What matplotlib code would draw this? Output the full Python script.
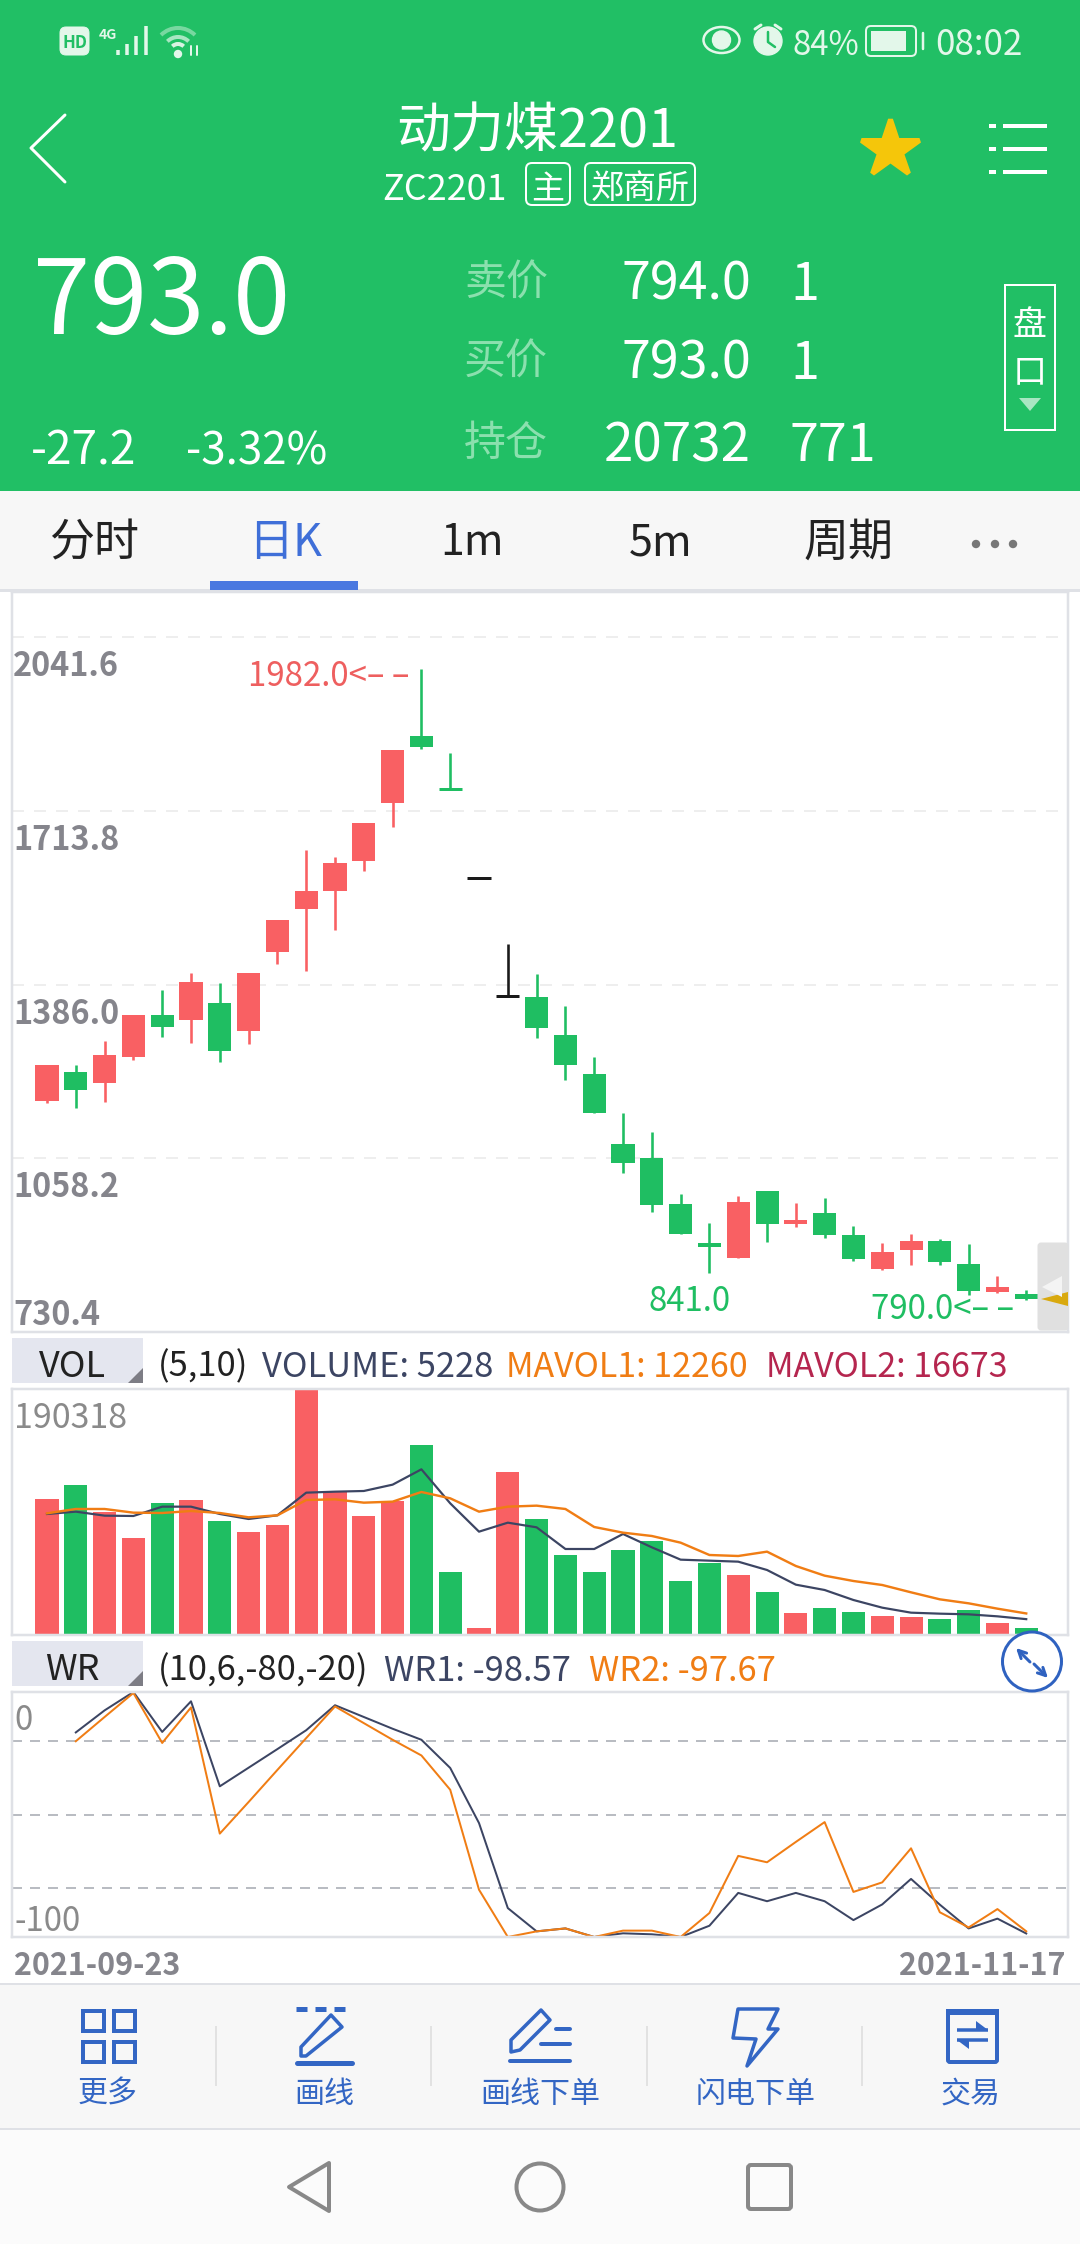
import matplotlib
matplotlib.use('Agg')
import matplotlib.pyplot as plt
from matplotlib.patches import Rectangle, Polygon, Circle, Ellipse, Arc, FancyBboxPatch

plt.rcParams['font.family'] = ['Noto Sans CJK SC', 'DejaVu Sans']

# -- candles, one per day
opens = [1166.5, 1220.5, 1200.4, 1248.9, 1327.6, 1318.4, 1350.5, 1297.4, 1447.5, 1528.0,
         1561.9, 1618.6, 1728.5, 1854.8, 1757.0, 1587.5, 1364.2, 1363.3, 1290.0, 1217.8,
         1086.0, 1059.4, 972.4, 897.4, 870.8, 997.2, 934.0, 954.1, 913.9, 849.8,
         884.6, 903.0, 859.0, 805.9, 803.0]
closes = [1235.0, 1186.6, 1252.5, 1327.6, 1306.5, 1391.6, 1260.8, 1407.2, 1507.0, 1561.9,
          1615.0, 1690.0, 1828.2, 1833.7, 1755.0, 1587.5, 1364.2, 1303.8, 1235.1, 1142.7,
          1050.2, 970.6, 915.7, 891.0, 976.1, 934.0, 942.2, 913.9, 869.0, 881.8,
          903.0, 861.7, 807.7, 816.0, 793.0]
highs = [1235.0, 1233.3, 1279.0, 1327.6, 1375.2, 1407.2, 1388.0, 1407.2, 1507.0, 1639.7,
         1626.0, 1690.0, 1828.2, 1982.0, 1822.8, 1587.5, 1462.1, 1405.4, 1345.0, 1248.9,
         1142.7, 1107.0, 989.9, 936.8, 986.2, 997.2, 974.0, 982.5, 931.2, 897.4,
         915.7, 906.6, 895.6, 837.0, 810.5]
lows = [1162.0, 1153.7, 1163.7, 1244.3, 1286.4, 1276.3, 1239.7, 1274.5, 1425.5, 1410.9,
        1488.7, 1599.4, 1682.7, 1830.1, 1755.0, 1587.5, 1364.2, 1285.5, 1205.0, 1142.7,
        1031.0, 956.0, 915.7, 841.0, 870.8, 901.0, 928.5, 908.4, 863.5, 848.0,
        857.0, 857.0, 800.4, 804.0, 790.0]
price_ticks = [2041.6, 1713.8, 1386.0, 1058.2, 730.4]
price_grid = [2041.6, 1713.8, 1386.0, 1058.2]

# -- volume
volumes = [105223, 116055, 94907, 75049, 102128, 104449, 88202, 79691, 85107, 190318,
           110381, 92070, 103676, 147003, 48743, 5416, 126113, 89749, 61896, 48743,
           65764, 72728, 41780, 55706, 46422, 33269, 17021, 20890, 17795, 14700,
           13927, 12379, 19343, 9284, 5228]
mavol1 = [93618, 95423, 92328, 92070, 99292, 99292, 93618, 89749, 92586, 110123,
          110897, 111413, 116313, 128176, 101871, 79949, 86912, 83302, 66538, 66538,
          78144, 67828, 58285, 57512, 56738, 50291, 38943, 34817, 27080, 21148,
          17279, 16506, 15990, 14442, 12260]
mavol2 = [94134, 97486, 97486, 94649, 94391, 95939, 94391, 91039, 92586, 104450,
          104965, 102386, 103160, 110639, 105739, 95423, 99292, 100065, 97486, 83560,
          79175, 76596, 71438, 61896, 61122, 64475, 53385, 45906, 41780, 38685,
          33011, 27595, 24501, 20374, 16673]

# -- WR, starts on the second day
wr1 = [-16.5, -7.5, 0, -16.3, -3.8, -38.5, -30.9, -23.3, -15.6, -5.4, -10.2, -15, -19.5,
       -31, -53.5, -88.2, -97.7, -96.5, -100, -98.5, -98.9, -100, -95.4, -82, -85.4, -82,
       -85.4, -93.1, -86.7, -76.3, -86.8, -96.5, -92.5, -98.57]
wr2 = [-20.1, -10.2, -0.4, -20.8, -6.3, -57.8, -44.9, -31.8, -18.8, -5.9, -12.7, -19.5,
       -25.9, -39.9, -80.7, -100, -97.7, -96.5, -100, -97.4, -97.4, -100, -90.2, -66.9,
       -69.5, -61.2, -53.1, -81.6, -77.7, -63.8, -89.9, -96.1, -88.6, -97.67]
wr_grid = [-20, -50, -80]

RED = '#f96063'
GREEN = '#1fbe62'
HEAD = '#21bf65'
NAVY = '#3c4563'
ORANGE = '#f07d14'
BLUE = '#3366c4'
BORDER = '#dfe1e6'
LABEL = '#85858c'
PALE = '#e3f7ea'


def pt(px):
    return px * 0.72


fig = plt.figure(figsize=(10.8, 22.44), dpi=100, facecolor='white')


def panel(top, bottom):
    ax = fig.add_axes([12 / 1080, 1 - bottom / 2244, (1068 - 12) / 1080, (bottom - top) / 2244])
    ax.set_xlim(-1.215, 35.45)
    ax.set_xticks([])
    ax.set_yticks([])
    for s in ax.spines.values():
        s.set_color(BORDER)
        s.set_linewidth(pt(2.5))
    return ax


days = list(range(len(opens)))

# ---- price panel
ax1 = panel(592, 1332)
ax1.set_ylim(730.4, 2126.6)
for g in price_grid:
    ax1.axhline(g, color='#eeeeee', lw=pt(2), dashes=(6, 5), zorder=0)
for i in days:
    o, c = opens[i], closes[i]
    col = RED if c > o else (GREEN if c < o else '#1a1a1a')
    ax1.vlines(i, lows[i], highs[i], color=col, lw=pt(2.6))
    if abs(c - o) < 3:
        ax1.hlines(c, i - 0.4, i + 0.4, color=col, lw=pt(3))
    else:
        ax1.bar(i, abs(c - o), bottom=min(o, c), width=0.8, color=col, linewidth=0)
for v, off in zip(price_ticks, [26, 26, 26, 26, -20]):
    ax1.annotate(f'{v:.1f}', xy=(0, v), xycoords=ax1.get_yaxis_transform(), xytext=(pt(1), -pt(off)),
                 textcoords='offset points', fontsize=pt(32.5), color=LABEL, fontweight='bold',
                 ha='left', va='center_baseline')
ax1.annotate('1982.0<– –', xy=(13, 1982), xytext=(pt(-12), pt(-4)), textcoords='offset points',
             fontsize=pt(33), color='#ee5f5f', ha='right', va='center_baseline')
ax1.annotate('841.0', xy=(23, 841), xytext=(pt(-20), pt(-24)), textcoords='offset points',
             fontsize=pt(33), color=GREEN, ha='center', va='center_baseline')
ax1.annotate('790.0<– –', xy=(34, 790), xytext=(pt(-12), pt(-5)), textcoords='offset points',
             fontsize=pt(33), color=GREEN, ha='right', va='center_baseline')

# ---- volume panel
ax2 = panel(1389, 1635)
ax2.set_ylim(0, 190318)
vol_cols = [RED if closes[i] >= opens[i] else GREEN for i in days]
ax2.bar(days, volumes, width=0.8, color=vol_cols, linewidth=0)
ax2.plot(days, mavol1, color=NAVY, lw=pt(2.2))
ax2.plot(days, mavol2, color=ORANGE, lw=pt(2.4))
ax2.text(0.002, 0.897, '190318', transform=ax2.transAxes, fontsize=pt(34), color='#8a8a8a',
         ha='left', va='center_baseline')

# ---- WR panel
ax3 = panel(1692, 1937)
ax3.set_ylim(-100, 0)
for g in wr_grid:
    ax3.axhline(g, color='#b9bcc2', lw=pt(2), dashes=(5, 4), zorder=0)
ax3.plot(days[1:], wr1, color=NAVY, lw=pt(2))
ax3.plot(days[1:], wr2, color=ORANGE, lw=pt(2))

# ---- everything around the chart, in screen pixels
ui = fig.add_axes([0, 0, 1, 1], zorder=10)
ui.set_xlim(0, 1080)
ui.set_ylim(2244, 0)
ui.axis('off')


def rect(x0, y0, x1, y1, color, **kw):
    ui.add_patch(Rectangle((x0, y0), x1 - x0, y1 - y0, facecolor=color, edgecolor='none', **kw))


def rbox(x0, y0, x1, y1, ec, r=6, lw=2, fc='none'):
    ui.add_patch(FancyBboxPatch((x0, y0), x1 - x0, y1 - y0, boxstyle=f'round,pad=0,rounding_size={r}',
                                facecolor=fc, edgecolor=ec, lw=pt(lw)))


def txt(x, y, s, px, color, ha='center', **kw):
    ui.text(x, y, s, fontsize=pt(px), color=color, ha=ha, va='center_baseline', **kw)


def line(xs, ys, color, lw=3, **kw):
    ui.plot(xs, ys, color=color, lw=pt(lw), solid_capstyle=kw.pop('cap', 'round'), **kw)


def poly(pts, fc='none', ec='none', lw=0):
    ui.add_patch(Polygon(pts, closed=True, facecolor=fc, edgecolor=ec, lw=pt(lw), joinstyle='round'))


# header
rect(0, 0, 1080, 491, HEAD)
rect(0, 491, 1080, 590, '#f7f7f7')
rect(0, 589, 1080, 592, BORDER)

# status bar
rbox(60, 27, 89, 55, PALE, r=6, lw=1, fc=PALE)
txt(74.5, 41, 'HD', 17, HEAD, fontweight='bold')
txt(108, 33, '4G', 14, PALE, fontweight='bold')
for bx, by in zip([118, 127, 136, 146], [50, 44, 36, 26]):
    line([bx, bx], [by, 55], PALE, lw=3.5, cap='butt')
for r_, a in zip([8, 15, 24], [0.95, 0.7, 0.45]):
    ui.add_patch(Arc((178, 52), 2 * r_, 2 * r_, theta1=225, theta2=315, color=PALE, lw=pt(4), alpha=a))
ui.add_patch(Circle((178, 54), 3.5, color=PALE))
line([191, 191], [46, 55], PALE, lw=2)
line([197, 197], [46, 55], PALE, lw=2)
ui.add_patch(Ellipse((721.5, 40), 36, 26, facecolor='none', edgecolor=PALE, lw=pt(2.5)))
ui.add_patch(Circle((721.5, 40), 9, color=PALE))
ui.add_patch(Circle((768, 41), 14, color=PALE))
line([768, 768, 775], [32, 42, 47], HEAD, lw=2.5)
line([755, 761], [29, 25], PALE, lw=3)
line([775, 781], [25, 29], PALE, lw=3)
txt(826, 41, '84%', 33, PALE)
rbox(866, 26, 916, 56, PALE, r=5, lw=2)
rect(871, 31, 906, 51, PALE)
line([923, 923], [33, 49], PALE, lw=2.5)
txt(979, 41, '08:02', 35, PALE)

# title row
line([65, 31, 65], [115, 148, 182], 'white', lw=3)
txt(537, 126, '动力煤2201', 54, 'white')
txt(444.5, 186, 'ZC2201', 36, 'white')
rbox(526, 163, 570, 205, 'white', r=6, lw=2)
txt(548, 185, '主', 33, 'white')
rbox(585, 163, 695, 205, 'white', r=6, lw=2)
txt(640, 185, '郑商所', 33, 'white')
ui.plot([890], [149], marker='*', ms=pt(60), color='#f5c60a', mec='#f5c60a', mew=pt(5), mfc='#f5c60a')
for my in [125.5, 148.5, 171.5]:
    line([989, 996], [my, my], 'white', lw=4, cap='butt')
    line([1003, 1047], [my, my], 'white', lw=4, cap='butt')

# quote block
txt(33, 292, '793.0', 103, 'white', ha='left')
txt(31, 446, '-27.2', 46, 'white', ha='left')
txt(186, 446, '-3.32%', 44, 'white', ha='left')
dim = '#8be0ae'
txt(506, 279, '卖价', 42, dim)
txt(506, 358, '买价', 42, dim)
txt(506, 439, '持仓', 42, dim)
txt(751, 279, '794.0', 52, 'white', ha='right')
txt(751, 358, '793.0', 52, 'white', ha='right')
txt(751, 440, '20732', 53, 'white', ha='right')
txt(790, 279, '1', 52, 'white', ha='left')
txt(790, 358, '1', 52, 'white', ha='left')
txt(790, 440, '771', 52, 'white', ha='left')
ui.add_patch(Rectangle((1005, 285), 50, 145, facecolor='none', edgecolor='white', lw=pt(2)))
txt(1030, 321, '盘', 34, 'white')
txt(1030, 369, '口', 34, 'white')
poly([(1019, 398), (1041, 398), (1030, 411)], fc='#a8e6c2')

# tabs
txt(94, 538, '分时', 45, '#222222')
txt(285, 538, '日K', 45, '#3f6fd8')
txt(472, 538, '1m', 43, '#222222')
txt(661, 538, '5m', 43, '#222222')
txt(849, 538, '周期', 45, '#222222')
rect(210, 581, 358, 590, '#4a78e0')
for dx in [976, 995, 1013]:
    ui.add_patch(Circle((dx, 544), 3.5, color='#777777'))

# handle at the right of the price panel
rbox(1038, 1243, 1068, 1330, '#e0e0e0', r=3, lw=1, fc='#e0e0e0')
poly([(1068, 1292), (1068, 1306), (1041, 1299)], fc='#d9a90f')
poly([(1062, 1276), (1062, 1297), (1042, 1287)], fc='#f4f4f4')

# indicator title rows
for by, name in zip([1338, 1641], ['VOL', 'WR']):
    rect(12, by, 143, by + 45, '#e4e6ef')
    poly([(143, by + 30), (143, by + 45), (128, by + 45)], fc='#7d7d85')
    txt(72, by + 25, name, 36, '#222222')
txt(158, 1363, '(5,10)', 34.5, '#222222', ha='left')
txt(262, 1363, 'VOLUME: 5228', 34.5, NAVY, ha='left')
txt(506, 1363, 'MAVOL1: 12260', 34, ORANGE, ha='left')
txt(766, 1363, 'MAVOL2: 16673', 34, '#b5264f', ha='left')
txt(158, 1667, '(10,6,-80,-20)', 34.5, '#222222', ha='left')
txt(384, 1667, 'WR1: -98.57', 34.5, NAVY, ha='left')
txt(589, 1667, 'WR2: -97.67', 34.5, ORANGE, ha='left')

# expand button
ui.add_patch(Circle((1032, 1661.5), 29.5, facecolor='white', edgecolor='#2f62c0', lw=pt(3)))
for tail, head in [((1030, 1662), (1016, 1648)), ((1034, 1664), (1048, 1678))]:
    ui.annotate('', xy=head, xytext=tail, arrowprops=dict(arrowstyle='->', color='#2f62c0', lw=pt(3),
                                                          shrinkA=0, shrinkB=0, mutation_scale=14))

# WR and date labels
txt(14, 1716, '0', 33, '#8a8a8a', ha='left')
txt(14, 1917, '-100', 33, '#8a8a8a', ha='left')
txt(14, 1962, '2021-09-23', 30.5, LABEL, ha='left', fontweight='bold')
txt(1066, 1962, '2021-11-17', 30.5, LABEL, ha='right', fontweight='bold')

# bottom toolbar
rect(0, 1984, 1080, 2129, '#f7f7f7')
rect(0, 1983, 1080, 1985, BORDER)
rect(0, 2128, 1080, 2130, BORDER)
rect(0, 2130, 1080, 2244, '#fbfbfb')
for sx in [215.5, 431, 647, 862]:
    line([sx, sx], [2026, 2086], '#dcdcdc', lw=1.5, cap='butt')
for tx, s in zip([108, 324, 540, 756, 971], ['更多', '画线', '画线下单', '闪电下单', '交易']):
    txt(tx, 2091, s, 30, BLUE)
for qx, qy in [(81, 2009), (112, 2009), (81, 2040), (112, 2040)]:
    ui.add_patch(Rectangle((qx + 1.5, qy + 1.5), 21, 20, facecolor='none', edgecolor=BLUE, lw=pt(4)))
ui.plot([296, 353], [2009, 2009], color=BLUE, lw=pt(5), dashes=(2.2, 1.6), solid_capstyle='round')
line([297, 352], [2063, 2063], BLUE, lw=5)
poly([(331, 2015), (342, 2027), (306, 2056), (301, 2056), (301, 2047)], ec=BLUE, lw=3.5)
poly([(541, 2010), (550, 2020), (520, 2050), (511, 2052), (511, 2040)], ec=BLUE, lw=3.5)
line([556, 570], [2029, 2029], BLUE, lw=4)
line([541, 570], [2044, 2044], BLUE, lw=4)
line([510, 570], [2061, 2061], BLUE, lw=4)
poly([(738, 2009), (778, 2009), (768, 2029), (778, 2029), (747, 2066), (756, 2039), (733, 2038)], ec=BLUE, lw=3.5)
rbox(948, 2011, 997, 2062, BLUE, r=2, lw=4)
rect(946, 2009, 999, 2015, BLUE)
line([957, 988], [2030, 2030], BLUE, lw=3.5, cap='butt')
line([957, 988], [2040, 2040], BLUE, lw=3.5, cap='butt')
poly([(976, 2021), (988, 2030), (976, 2030)], fc=BLUE)
poly([(957, 2040), (969, 2040), (969, 2049)], fc=BLUE)

# navigation bar
nav = '#888888'
poly([(329, 2163), (329, 2211), (289, 2187)], ec=nav, lw=4)
ui.add_patch(Circle((540, 2187), 23.5, facecolor='none', edgecolor=nav, lw=pt(4)))
rbox(748, 2165, 791, 2209, nav, r=3, lw=4)

plt.savefig('out.png', dpi=100)
